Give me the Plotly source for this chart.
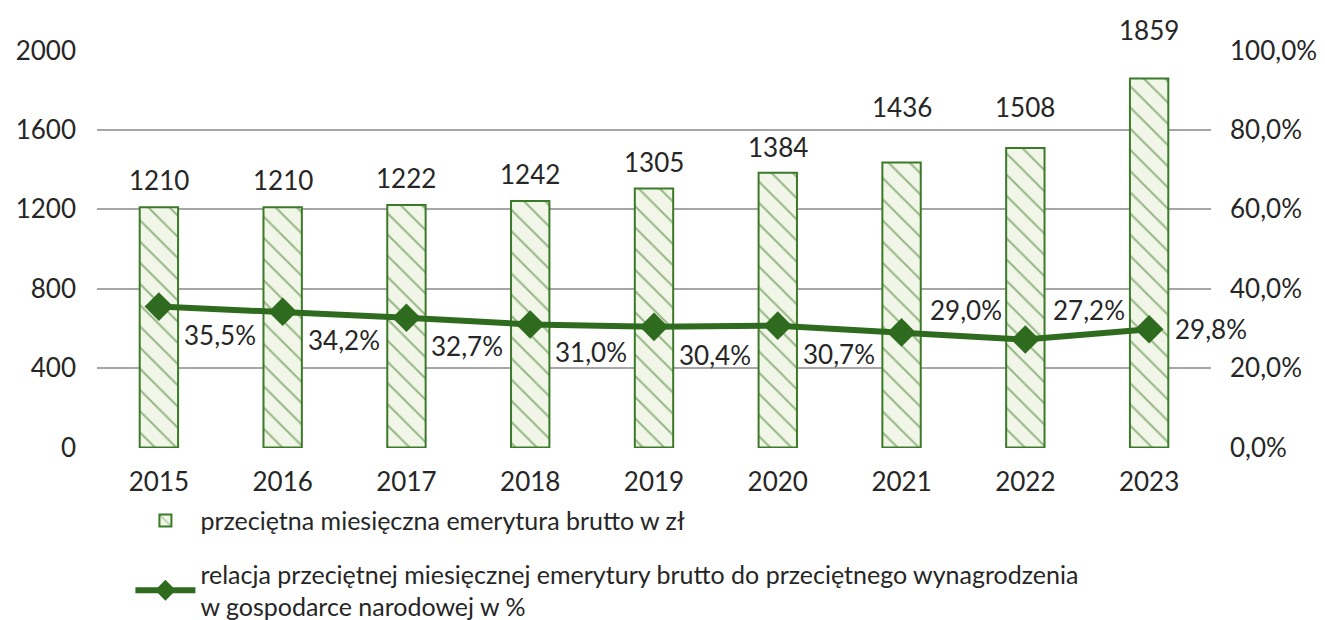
import plotly.graph_objects as go

years = ["2015", "2016", "2017", "2018", "2019", "2020", "2021", "2022", "2023"]
pension = [1210, 1210, 1222, 1242, 1305, 1384, 1436, 1508, 1859]
ratio = [35.5, 34.2, 32.7, 31.0, 30.4, 30.7, 29.0, 27.2, 29.8]
ratio_labels = ["35,5%", "34,2%", "32,7%", "31,0%", "30,4%", "30,7%", "29,0%", "27,2%", "29,8%"]
left_ticks = [0, 400, 800, 1200, 1600, 2000]
right_ticks = [0, 20, 40, 60, 80, 100]
right_tick_labels = ["0,0%", "20,0%", "40,0%", "60,0%", "80,0%", "100,0%"]

name_bar = "przeciętna miesięczna emerytura brutto w zł"
name_line = "relacja przeciętnej miesięcznej emerytury brutto do przeciętnego wynagrodzenia<br>w gospodarce narodowej w %"

DARK = "#2f6b1f"
BAR_LINE = "#3b7a28"
BAR_FILL = "#f2f6e8"
TXT = "#262626"
FONT = "Lato"
FS = 26

# label placement offsets (pixels)
bar_label_shift = [9, 9, 9, 9, 8, 8, 37, 23, 30]
line_label_shift = [(61, -28)] * 6 + [(64, 22), (64, 30), (62, 0)]

fig = go.Figure()
fig.add_trace(go.Bar(
    x=years, y=pension, name=name_bar,
    marker=dict(color=BAR_FILL, line=dict(color=BAR_LINE, width=2),
                pattern=dict(shape="\\", fgcolor=BAR_LINE, bgcolor=BAR_FILL, size=15, solidity=0.14)),
    width=0.31, legendgroup="a", hoverinfo="x+y",
))
fig.add_trace(go.Scatter(
    x=years, y=ratio, name=name_line, yaxis="y2", mode="lines+markers",
    line=dict(color=DARK, width=6),
    marker=dict(symbol="diamond", size=22, color=DARK),
    cliponaxis=False, legendgroup="b",
))

# bar value labels
for i, v in enumerate(pension):
    fig.add_annotation(x=i, y=v, xref="x", yref="y", text=str(v), showarrow=False,
                       yanchor="bottom", yshift=bar_label_shift[i],
                       font=dict(size=FS, color=TXT, family=FONT))

# line value labels
for i, (r, lab) in enumerate(zip(ratio, ratio_labels)):
    dx, dy = line_label_shift[i]
    fig.add_annotation(x=i, y=r, xref="x", yref="y2", text=lab, showarrow=False,
                       xshift=dx, yshift=dy, font=dict(size=FS, color=TXT, family=FONT))

fig.update_layout(
    width=1325, height=620,
    margin=dict(l=89, r=122, t=42, b=180, autoexpand=False),
    paper_bgcolor="white", plot_bgcolor="white",
    font=dict(family=FONT, size=FS, color=TXT),
    showlegend=True,
    legend=dict(orientation="v", x=0.03, y=-0.125, xanchor="left", yanchor="top",
                font=dict(size=25, color=TXT, family=FONT), tracegroupgap=18,
                itemwidth=60),
    xaxis=dict(type="category", range=[-0.5, 8.5], showgrid=False, showline=False, ticks="",
               ticklabelstandoff=16, tickfont=dict(size=FS, color=TXT)),
    yaxis=dict(range=[-2, 2002], tickvals=left_ticks, showgrid=True, gridcolor="#a6a6a6",
               gridwidth=2, zeroline=False, ticks="", ticklabelstandoff=20,
               tickfont=dict(size=FS, color=TXT)),
    yaxis2=dict(range=[-0.1, 100.1], tickvals=right_ticks, ticktext=right_tick_labels,
                overlaying="y", side="right", showgrid=False, zeroline=False,
                ticklabelstandoff=18, tickfont=dict(size=FS, color=TXT)),
)

fig.write_html("out.html")
